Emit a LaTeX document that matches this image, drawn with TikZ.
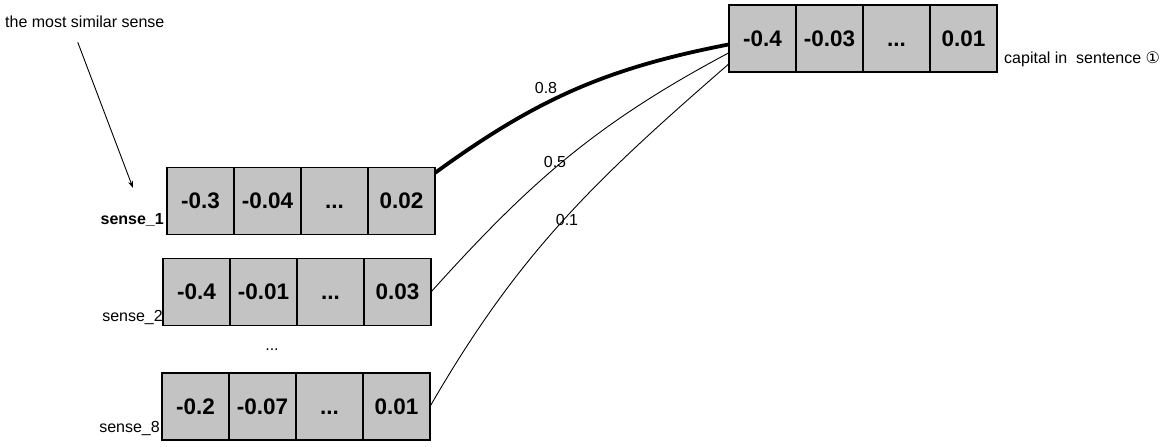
\documentclass[tikz,border=0pt]{standalone}
\usepackage{fontspec}
\setmainfont{Liberation Sans}
\newfontfamily\circfont{DejaVu Sans}
\usetikzlibrary{arrows.meta,positioning}
\definecolor{cellgray}{RGB}{195,195,195}
\newcommand\ellip{...}

\begin{document}
\begin{tikzpicture}[x=1pt,y=1pt,
    cell/.style={draw=black,fill=cellgray,line width=1.2pt,minimum width=67pt,minimum height=67pt,
      inner sep=0pt,outer sep=0pt,text height=16pt,text depth=0pt,font=\fontsize{22.5}{27}\selectfont\bfseries},
    lbl/.style={inner sep=0pt,font=\fontsize{16}{19}\selectfont},
    link/.style={line width=0.9pt},
    pointer/.style={line width=0.9pt,-{Stealth[length=7pt,width=5pt]}}]

  \useasboundingbox (0,0) rectangle (1170,447);

  % vector of the word
  \foreach \v [count=\i] in {-0.4,-0.03,\ellip,0.01}
    \node[cell] (t\i) at ({762.5+67*(\i-1)},408.5) {\v};

  % sense vectors
  \foreach \v [count=\i] in {-0.3,-0.04,\ellip,0.02}
    \node[cell] (a\i) at ({200.5+67*(\i-1)},246) {\v};
  \foreach \v [count=\i] in {-0.4,-0.01,\ellip,0.03}
    \node[cell] (b\i) at ({196.5+67*(\i-1)},155) {\v};
  \foreach \v [count=\i] in {-0.2,-0.07,\ellip,0.01}
    \node[cell] (c\i) at ({195.5+67*(\i-1)},40.5) {\v};

  \node[lbl,font=\fontsize{16}{19}\selectfont\bfseries,anchor=base east] (na) at ([xshift=-3pt,yshift=10pt]a1.south west) {sense\_1};
  \node[lbl,anchor=base east] (nb) at ([yshift=4pt]b1.south west) {sense\_2};
  \node[lbl,anchor=base east] (nc) at ([xshift=-2pt,yshift=7pt]c1.south west) {sense\_8};
  \node[lbl,anchor=base] (gap) at (272,96) {\ellip};

  \node[lbl,anchor=base west] (word) at ([xshift=7pt,yshift=8pt]t4.south east) {capital in~ sentence {\circfont ①}};

  % pointer to the best sense
  \node[lbl,anchor=base west] (note) at (5,419) {the most similar sense};
  \coordinate (tip) at (133,259);
  \draw[pointer] ([xshift=-7pt,yshift=-14pt]note.south) -- (tip);

  % similarities
  \draw[line width=3.8pt] (a4.40) to[out=36,in=191] (t1.190);
  \draw[link] (b4.east) to[out=48,in=208] (t1.203);
  \draw[link] (c4.east) to[out=60,in=221] (t1.217);

  \node[lbl] (w1) at (546,359) {0.8};
  \node[lbl] (w2) at (555,285) {0.5};
  \node[lbl] (w3) at (567,227) {0.1};

\end{tikzpicture}
\end{document}
